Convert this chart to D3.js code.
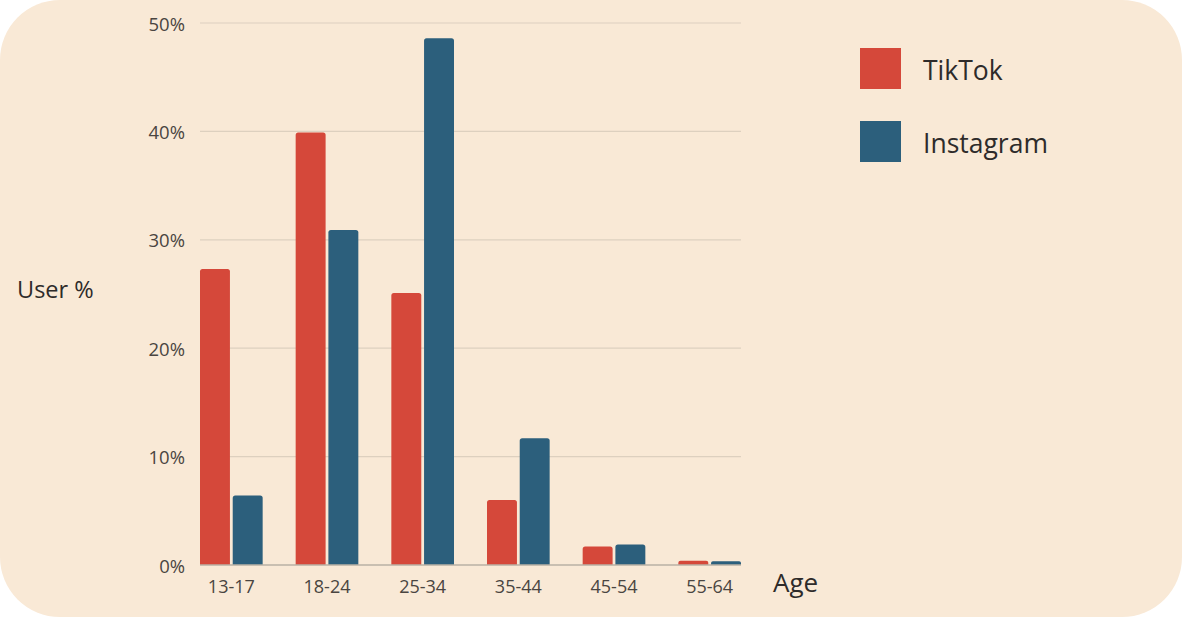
<!DOCTYPE html>
<html><head><meta charset="utf-8">
<script src="https://cdn.jsdelivr.net/npm/d3@7"></script>
<style>
html,body{margin:0;padding:0;background:#ffffff;}
svg{display:block;}
</style></head>
<body>
<svg id="chart" width="1184" height="618"></svg>
<script>
const categories = ["13-17","18-24","25-34","35-44","45-54","55-64"];
const seriesNames = ["TikTok","Instagram"];
const tiktok = [27.3, 39.9, 25.1, 6.0, 1.7, 0.4];
const instagram = [6.4, 30.9, 48.6, 11.7, 1.9, 0.35];
const yTicks = [0,10,20,30,40,50];
const colors = ["#d5483a","#2c5f7c"];

const svg = d3.select("#chart");
// card background
svg.append("rect").attr("x",0).attr("y",0).attr("width",1182).attr("height",617)
  .attr("rx",60).attr("ry",60).attr("fill","#f9e9d6");

const x = d3.scaleBand().domain(categories).range([200,741]).paddingInner(0.345).paddingOuter(0);
const xs = d3.scaleBand().domain(seriesNames).range([0,x.bandwidth()]).paddingInner(0.085);
const y = d3.scaleLinear().domain([0,50]).range([565,23]);

// gridlines
svg.append("g").selectAll("line").data(yTicks.filter(d=>d>0)).join("line")
  .attr("x1",200).attr("x2",741)
  .attr("y1",d=>y(d)).attr("y2",d=>y(d))
  .attr("stroke","#ddd0bf").attr("stroke-width",1.2);

// y tick labels
svg.append("g").selectAll("text").data(yTicks).join("text")
  .attr("x",185).attr("y",d=>y(d)).attr("text-anchor","end")
  .attr("dominant-baseline","central")
  .attr("font-family","'Open Sans', sans-serif").attr("font-size",18.5)
  .attr("fill","#4a4541").text(d=>d+"%");

// bars
const data = categories.map((c,i)=>({cat:c, vals:[tiktok[i], instagram[i]]}));
const groups = svg.append("g").selectAll("g").data(data).join("g")
  .attr("transform",d=>`translate(${x(d.cat)},0)`);
groups.selectAll("path").data(d=>d.vals.map((v,j)=>({name:seriesNames[j], v, j}))).join("path")
  .attr("fill",d=>colors[d.j])
  .attr("d",d=>{
    const x0 = xs(d.name), w = xs.bandwidth(), y0 = y(d.v), b = y(0);
    const r = Math.min(2.5, (b-y0)/2);
    return `M${x0},${b}V${y0+r}Q${x0},${y0} ${x0+r},${y0}H${x0+w-r}Q${x0+w},${y0} ${x0+w},${y0+r}V${b}Z`;
  });

// baseline
svg.append("line").attr("x1",200).attr("x2",741).attr("y1",y(0)).attr("y2",y(0))
  .attr("stroke","#b9b0a5").attr("stroke-width",1.3);

// x labels
svg.append("g").selectAll("text").data(categories).join("text")
  .attr("x",d=>x(d)+x.bandwidth()/2).attr("y",586)
  .attr("text-anchor","middle").attr("dominant-baseline","central")
  .attr("font-family","'Open Sans', sans-serif").attr("font-size",18)
  .attr("fill","#4a4541").text(d=>d);

// axis titles
svg.append("text").attr("x",17).attr("y",289).attr("dominant-baseline","central")
  .attr("font-family","'Open Sans', sans-serif").attr("font-size",23.5)
  .attr("fill","#2e2b2a").text("User %");
svg.append("text").attr("x",773).attr("y",582).attr("dominant-baseline","central")
  .attr("font-family","'Open Sans', sans-serif").attr("font-size",26)
  .attr("fill","#2e2b2a").text("Age");

// legend
const leg = svg.append("g").selectAll("g").data(seriesNames).join("g")
  .attr("transform",(d,i)=>`translate(860,${48 + i*73})`);
leg.append("rect").attr("width",41).attr("height",41).attr("fill",(d,i)=>colors[i]);
leg.append("text").attr("x",63).attr("y",22).attr("dominant-baseline","central")
  .attr("font-family","'Open Sans', sans-serif").attr("font-size",26.5)
  .attr("fill","#2e2b2a").text(d=>d);
</script>
</body></html>
